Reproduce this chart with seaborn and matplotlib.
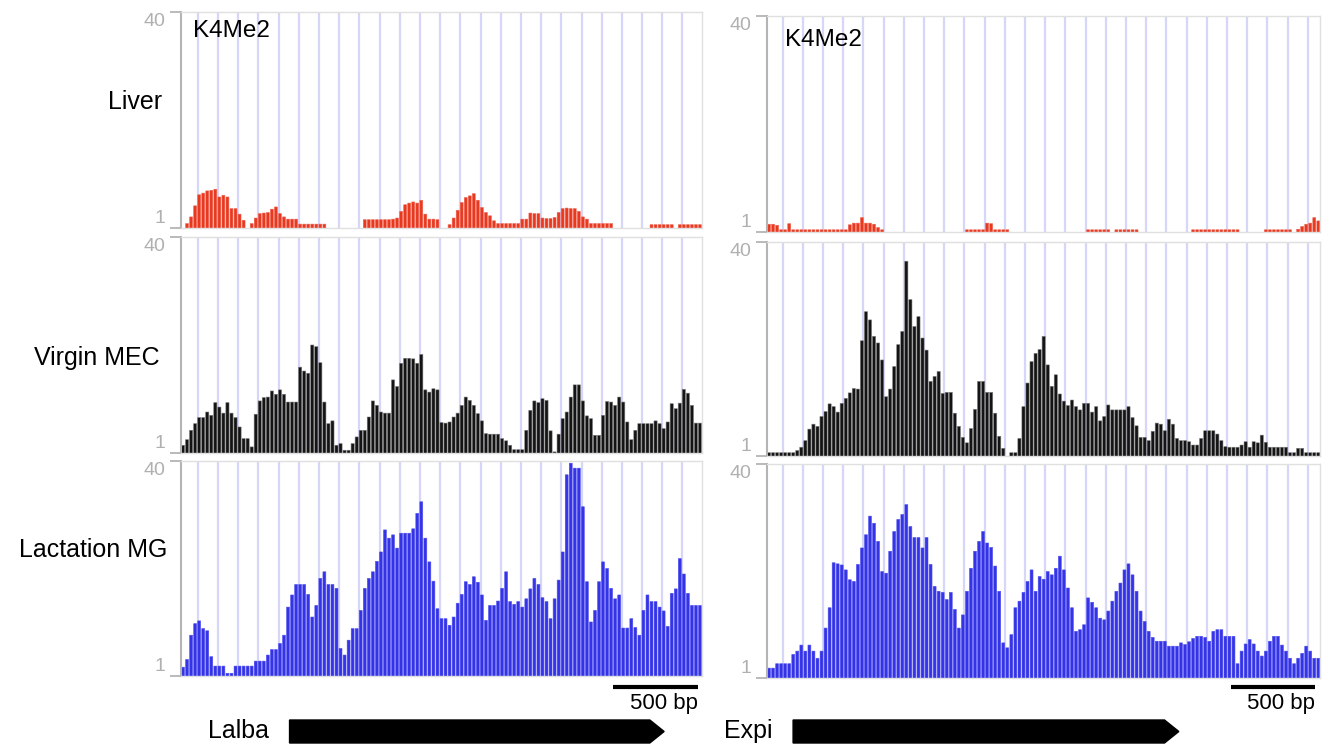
import numpy as np
import pandas as pd
import matplotlib
matplotlib.use("Agg")
import matplotlib.pyplot as plt
import seaborn as sns

sns.set_theme(style="white")
plt.rcParams["font.family"] = ["Liberation Sans", "DejaVu Sans"]

# ---------------- data ----------------
BIN_BP = 24                      # bin width in bp
lalba_first_bin = -88            # bp centre of first bin (Lalba locus)
expi_first_bin = -81             # bp centre of first bin (Expi locus)

tissues = ["Liver", "Virgin MEC", "Lactation MG"]
mark_label = "K4Me2"
genes = ["Lalba", "Expi"]
gene_start = [545, 62]           # bp
gene_end = [2771, 2354]          # bp
scale_bar_bp = 500
scale_bar_start = [2470, 2665]
y_ticks = [1, 40]

liver_lalba = [
    0, 1.8, 3.0, 5.0, 7.0, 7.3, 7.7, 7.8, 8.0, 6.6, 6.9, 6.6, 4.5, 4.5, 3.5, 2.4,
    0, 1.8, 2.8, 3.6, 3.7, 3.8, 4.4, 4.8, 3.6, 3.0, 2.6, 2.6, 2.6,
    1.7, 1.7, 1.7, 1.7, 1.7, 1.7, 1.7,
    0, 0, 0, 0, 0, 0, 0, 0, 0,
    2.5, 2.5, 2.5, 2.5, 2.5, 2.5, 2.5,
    2.6, 2.8, 4.0, 5.2, 5.5, 5.7, 5.5, 6.0, 3.5, 2.6, 2.6, 2.5,
    0, 0,
    1.6, 2.8, 4.2, 5.6, 6.5, 6.8, 7.2, 6.0, 4.7, 3.8, 3.2, 2.3, 1.8,
    1.8, 1.8, 1.8, 1.8, 1.8,
    2.6, 2.6, 3.7, 3.6, 3.6, 2.8, 2.7, 2.7, 2.9, 3.8, 4.5, 4.6, 4.5, 4.5, 4.0, 3.0, 2.6,
    1.8, 1.8, 1.8, 1.8, 1.8, 1.8,
    0, 0, 0, 0, 0, 0, 0, 0, 0,
    1.6, 1.6, 1.6, 1.6, 1.6, 1.6,
    0,
    1.6, 1.6, 1.6, 1.6, 1.6, 1.6,
]

virgin_lalba = [
    2.4, 3.4, 5.1, 6.3, 7.4, 7.4, 8.4, 7.8, 10.1, 9.3, 8.2, 10.1, 8.2, 7.4, 5.7, 3.6,
    3.6, 2.1, 8.0, 10.4, 11.0, 11.1, 12.2, 11.6, 12.4, 11.6, 10.2, 10.2, 10.2, 16.5,
    15.8, 15.4, 20.5, 20.2, 17.3, 10.2, 6.3, 6.8, 2.4, 2.7, 1.5, 1.5, 2.7, 3.9, 5.1,
    5.1, 7.5, 10.4, 9.6, 8.4, 8.2, 8.2, 14.2, 13.0, 17.2, 18.1, 18.1, 18.0, 17.2, 18.8,
    12.4, 12.0, 12.6, 12.4, 6.5, 6.4, 6.6, 7.5, 8.2, 9.6, 11.1, 10.5, 9.6, 8.1, 6.8,
    4.5, 4.4, 4.4, 4.4, 3.6, 3.2, 2.4, 1.6, 1.6, 1.6, 5.1, 8.7, 10.4, 10.1, 10.8,
    10.5, 5.0, 1.2, 4.4, 7.2, 8.4, 11.1, 13.3, 13.3, 10.4, 7.7, 7.2, 4.2, 4.2, 7.8,
    10.3, 10.2, 9.6, 11.1, 10.2, 6.6, 3.4, 5.1, 6.3, 6.3, 6.3, 6.3, 6.8, 6.3, 5.4,
    6.6, 9.9, 9.0, 10.0, 12.5, 11.8, 9.6, 6.4, 6.4,
]

lact_lalba = [
    2.6, 4.0, 8.4, 10.5, 11.0, 9.6, 9.2, 4.5, 2.8, 2.8, 2.8, 1.5, 1.5, 2.8, 2.8, 2.8,
    2.8, 2.8, 3.7, 3.7, 3.7, 4.8, 5.8, 5.8, 6.9, 8.4, 13.5, 15.7, 17.6, 17.6, 17.6,
    15.8, 11.7, 13.8, 18.7, 19.9, 17.6, 17.6, 16.9, 6.0, 4.8, 7.5, 9.6, 9.6, 12.9,
    16.9, 18.7, 19.9, 21.8, 23.5, 27.5, 26.0, 26.6, 24.2, 26.9, 26.9, 26.9, 27.7,
    30.5, 32.6, 26.0, 21.7, 18.2, 13.2, 11.4, 11.4, 10.2, 11.7, 14.2, 15.8, 18.1,
    17.6, 19.0, 18.0, 15.7, 11.1, 13.8, 13.8, 14.6, 16.9, 19.9, 14.5, 14.0, 14.5,
    13.5, 15.0, 16.8, 18.7, 17.6, 15.2, 14.5, 11.4, 15.0, 18.4, 23.5, 37.5, 39.6,
    38.7, 38.7, 31.7, 18.1, 10.8, 12.9, 18.1, 21.7, 20.5, 16.9, 15.0, 15.7, 9.7,
    9.7, 11.4, 9.8, 8.4, 12.9, 15.7, 14.5, 14.5, 13.5, 12.8, 10.0, 16.0, 16.8, 22.3,
    19.5, 16.0, 13.8, 13.8, 13.8,
]

liver_expi = [
    2.4, 2.4, 2.2, 1.4, 1.4, 2.5,
    1.4, 1.4, 1.4, 1.4, 1.4, 1.4, 1.4, 1.4, 1.4, 1.4, 1.4, 1.4, 1.4, 1.4,
    2.3, 2.6, 2.6, 3.6, 2.6, 2.6, 2.4, 1.8, 1.4,
    0, 0, 0, 0, 0, 0, 0, 0, 0, 0, 0, 0, 0, 0, 0, 0, 0, 0, 0, 0,
    1.4, 1.4, 1.4, 1.4, 1.4, 2.6, 2.5, 1.4, 1.4, 1.4, 1.4,
    0, 0, 0, 0, 0, 0, 0, 0, 0, 0, 0, 0, 0, 0, 0, 0, 0, 0, 0,
    1.4, 1.4, 1.4, 1.4, 1.4, 1.4,
    0,
    1.4, 1.4, 1.4, 1.4, 1.4, 1.4,
    0, 0, 0, 0, 0, 0, 0, 0, 0, 0, 0, 0, 0,
    1.4, 1.4, 1.4, 1.4, 1.4, 1.4, 1.4, 1.4, 1.4, 1.4, 1.4, 1.4,
    0, 0, 0, 0, 0, 0,
    1.4, 1.4, 1.4, 1.4, 1.4, 1.4, 1.4,
    0,
    1.5, 2.0, 2.4, 2.6, 3.6, 3.0,
]

virgin_expi = [
    1.6, 1.6, 1.6, 1.6, 1.6, 1.6, 1.6, 2.0, 2.6, 3.8, 5.9, 6.8, 6.4, 8.2, 9.1, 10.5,
    10.0, 9.0, 10.6, 11.5, 12.5, 13.3, 13.2, 22.0, 27.3, 25.8, 22.8, 21.6, 18.5,
    11.8, 13.2, 17.3, 21.3, 23.7, 36.5, 29.5, 24.6, 26.4, 22.5, 20.3, 14.6, 15.5,
    16.4, 12.4, 12.6, 12.6, 8.8, 6.4, 4.4, 3.4, 6.0, 9.5, 14.6, 14.6, 12.6, 12.6,
    8.8, 4.6, 2.4, 0, 1.6, 1.6, 4.2, 10.0, 14.3, 18.2, 19.7, 20.4, 22.8, 17.6, 13.7,
    15.8, 12.3, 11.0, 10.2, 11.2, 10.0, 9.4, 10.6, 10.6, 9.0, 10.0, 7.4, 8.2, 10.3,
    9.4, 9.4, 9.4, 9.4, 10.0, 8.0, 6.5, 4.4, 4.4, 3.8, 5.5, 7.0, 6.8, 5.6, 7.7, 6.8,
    4.2, 3.8, 3.8, 3.6, 3.0, 3.0, 4.2, 5.6, 5.6, 5.6, 5.0, 3.8, 2.7, 2.6, 2.6, 2.6,
    3.0, 3.6, 2.6, 3.6, 3.4, 4.8, 3.5, 2.6, 2.6, 2.6, 2.6, 2.6, 1.6, 1.6, 2.4, 2.4,
    1.6, 1.6, 1.6, 1.6,
]

lact_expi = [
    2.8, 2.8, 3.6, 3.6, 3.6, 3.6, 5.3, 5.9, 7.0, 5.9, 7.0, 5.9, 4.6, 5.9, 10.1, 13.8,
    22.0, 21.8, 21.6, 20.7, 18.9, 18.6, 21.7, 24.7, 27.1, 30.5, 29.2, 25.9, 20.4,
    20.1, 24.1, 27.7, 29.9, 30.8, 32.6, 28.6, 26.6, 26.6, 24.7, 26.6, 21.7, 17.7,
    16.8, 16.6, 15.3, 16.6, 13.5, 10.1, 12.5, 16.8, 21.0, 24.1, 25.9, 27.7, 25.6,
    24.8, 21.4, 16.8, 7.4, 6.5, 8.9, 13.8, 15.0, 16.6, 18.6, 20.7, 16.8, 19.5, 19.0,
    20.4, 19.8, 21.0, 23.2, 20.7, 17.4, 13.8, 9.5, 9.8, 10.7, 15.6, 14.8, 13.8, 11.9,
    11.6, 13.2, 15.0, 16.8, 18.3, 20.7, 21.8, 19.8, 16.8, 13.2, 11.3, 9.5, 8.4, 7.7,
    7.7, 7.7, 6.8, 6.8, 6.8, 7.4, 7.1, 7.6, 8.2, 8.6, 8.6, 8.4, 7.7, 9.5, 9.8, 9.8,
    8.6, 8.6, 8.6, 3.6, 5.9, 7.2, 8.0, 7.2, 5.9, 5.0, 5.9, 7.7, 8.6, 8.6, 7.0, 5.9,
    4.6, 3.6, 4.6, 5.5, 6.8, 5.9, 4.6, 4.6,
]

tracks = {
    0: [liver_lalba, virgin_lalba, lact_lalba],
    1: [liver_expi, virgin_expi, lact_expi],
}
first_bin = [lalba_first_bin, expi_first_bin]
track_colors = ["#e8391f", "#141414", "#3434e6"]
edge_colors = ["#ee6050", "#7a7a7a", "#4d4df0"]
bar_widths = [0.72, 0.78, 0.72]

# ---------------- layout (pixels) ----------------
W, H = 1326, 746
col_x = [(181, 702), (767, 1320)]
row_y = [[(12, 228), (237, 453), (461, 676)],
         [(16, 232), (242, 456), (464, 678)]]
xlims = [(-100, 2996), (-93, 3193)]
grid_step = 120
grid_n = [25, 27]

fig = plt.figure(figsize=(W / 100, H / 100), dpi=100)

def add_px_axes(x0, x1, ytop, ybot):
    return fig.add_axes([x0 / W, 1 - ybot / H, (x1 - x0) / W, (ybot - ytop) / H])

for c in range(2):
    for r in range(3):
        vals = tracks[c][r]
        pos = first_bin[c] + BIN_BP * np.arange(len(vals))
        df = pd.DataFrame({"pos": pos, "signal": vals})
        ytop, ybot = row_y[c][r]
        ax = add_px_axes(col_x[c][0], col_x[c][1], ytop, ybot)
        ax.set_axisbelow(True)
        sns.barplot(data=df, x="pos", y="signal", ax=ax, native_scale=True,
                    width=bar_widths[r], color=track_colors[r], saturation=1,
                    errorbar=None, edgecolor=edge_colors[r], linewidth=0.4)
        for p in ax.patches:
            p.set_snap(False)
        ax.set_xlim(*xlims[c])
        ax.set_ylim(y_ticks[0], y_ticks[1])
        ax.set_xticks([grid_step * i for i in range(grid_n[c])])
        ax.grid(axis="x", color="#d6d6f7", linewidth=1.6)
        ax.grid(axis="y", visible=False)
        ax.tick_params(axis="x", length=0, labelbottom=False)
        ax.set_yticks(y_ticks)
        ax.set_yticklabels([])
        ax.tick_params(axis="y", left=True, length=8, width=1.3, color="#b4b4b4")
        ax.set_xlabel("")
        ax.set_ylabel("")
        for side in ["top", "right", "bottom"]:
            ax.spines[side].set_color("#e0e0e0")
            ax.spines[side].set_linewidth(1.0)
        ax.spines["left"].set_color("#b4b4b4")
        ax.spines["left"].set_linewidth(1.5)
        ax.annotate(str(y_ticks[1]), xy=(0, y_ticks[1]),
                    xycoords=("axes fraction", "data"), xytext=(-11, -1),
                    textcoords="offset points", ha="right", va="top",
                    fontsize=14, color="#b0b0b0")
        ax.annotate(str(y_ticks[0]), xy=(0, y_ticks[0]),
                    xycoords=("axes fraction", "data"), xytext=(-11, 1),
                    textcoords="offset points", ha="right", va="bottom",
                    fontsize=14, color="#b0b0b0")
        if r == 0:
            kx = 0.023 if c == 0 else 0.033
            ax.text(kx, 0.91 if c == 0 else 0.89, mark_label, transform=ax.transAxes,
                    ha="left", va="center", fontsize=17.5, color="black")
        if c == 0:
            label_x = [162, 160, 167][r]
            label_y = [102, 358, 550][r]
            fig.text(label_x / W, 1 - label_y / H, tissues[r], ha="right",
                     va="center", fontsize=18, color="black")

    # gene model + scale bar
    gax = add_px_axes(col_x[c][0], col_x[c][1], 680, 746)
    gax.set_xlim(*xlims[c])
    gax.set_ylim(0, 66)
    gax.axis("off")
    sb = scale_bar_start[c]
    gax.plot([sb, sb + scale_bar_bp], [59, 59], color="black", lw=3,
             solid_capstyle="butt")
    gax.text(sb + scale_bar_bp, 42, f"{scale_bar_bp} bp", ha="right",
             va="center", fontsize=16, color="black")
    s, e = gene_start[c], gene_end[c]
    tip = 85
    gax.fill([s, e - tip, e, e - tip, s], [3, 3, 14.5, 26, 26], color="black")
    gax.text(s - 120, 15, genes[c], ha="right", va="center", fontsize=18,
             color="black")

fig.savefig("out.png", dpi=100)
